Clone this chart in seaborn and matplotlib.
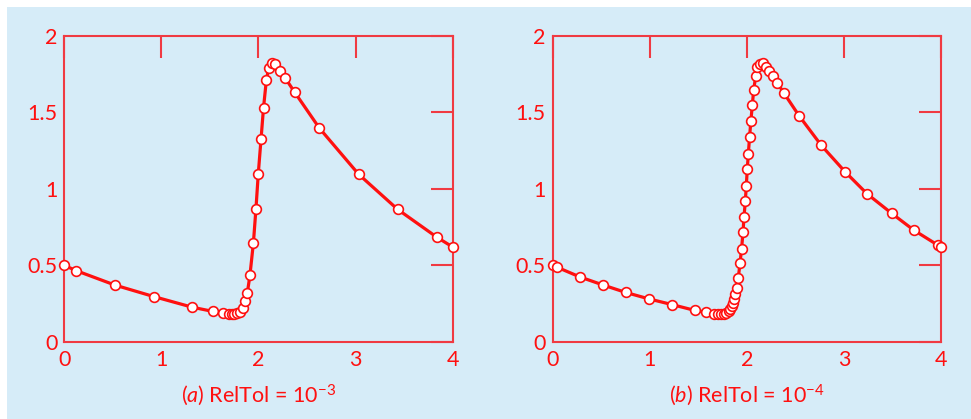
import numpy as np
import matplotlib
matplotlib.use("Agg")
import matplotlib.pyplot as plt
import seaborn as sns
import pandas as pd

# (a) RelTol = 1e-3
t_a = [0.0, 0.124, 0.522, 0.927, 1.320, 1.530, 1.635, 1.692, 1.726, 1.753, 1.782, 1.811,
       1.838, 1.864, 1.885, 1.912, 1.948, 1.974, 1.998, 2.026, 2.052, 2.081, 2.105, 2.137,
       2.175, 2.225, 2.278, 2.371, 2.627, 3.032, 3.433, 3.839, 4.0]
y_a = [0.499, 0.464, 0.370, 0.294, 0.225, 0.198, 0.187, 0.183, 0.183, 0.183, 0.185, 0.197,
       0.221, 0.265, 0.318, 0.434, 0.648, 0.869, 1.098, 1.322, 1.530, 1.709, 1.788, 1.824,
       1.814, 1.772, 1.721, 1.632, 1.396, 1.094, 0.865, 0.682, 0.619]

# (b) RelTol = 1e-4
t_b = [0.0, 0.048, 0.281, 0.521, 0.751, 0.995, 1.232, 1.460, 1.583, 1.660, 1.705, 1.736,
       1.763, 1.787, 1.811, 1.828, 1.842, 1.852, 1.866, 1.880, 1.894, 1.910, 1.928, 1.944,
       1.959, 1.969, 1.983, 1.993, 2.003, 2.014, 2.027, 2.040, 2.055, 2.069, 2.090, 2.108,
       2.129, 2.161, 2.199, 2.229, 2.268, 2.310, 2.377, 2.538, 2.765, 3.009, 3.235, 3.489,
       3.715, 3.962, 4.0]
y_b = [0.499, 0.486, 0.423, 0.370, 0.322, 0.279, 0.242, 0.205, 0.192, 0.183, 0.183, 0.183,
       0.184, 0.186, 0.199, 0.214, 0.231, 0.250, 0.276, 0.312, 0.353, 0.414, 0.512, 0.606,
       0.715, 0.815, 0.919, 1.020, 1.129, 1.230, 1.341, 1.444, 1.547, 1.647, 1.736, 1.796,
       1.814, 1.819, 1.794, 1.770, 1.735, 1.694, 1.628, 1.475, 1.283, 1.111, 0.967, 0.839,
       0.730, 0.632, 0.619]

titles = ["($\\it{a}$) RelTol = $10^{-3}$", "($\\it{b}$) RelTol = $10^{-4}$"]

bg = "#d6ecf8"
red = "#ff1010"
frame_red = "#f03a42"

sns.set_theme(style="white")
plt.rcParams["font.family"] = ["Lato", "DejaVu Sans"]
plt.rcParams["mathtext.fontset"] = "custom"
plt.rcParams["mathtext.rm"] = "Lato"
plt.rcParams["mathtext.it"] = "Lato:italic"

fig = plt.figure(figsize=(9.71, 4.19), dpi=100, facecolor="white")
fig.patches.append(plt.Rectangle((7 / 971, 0), 1, 412 / 419, transform=fig.transFigure,
                                 facecolor=bg, edgecolor="none", zorder=-10))

positions = [[0.0662, 0.1845, 0.4, 0.7303], [0.5692, 0.1845, 0.4002, 0.7303]]
datasets = [(t_a, y_a), (t_b, y_b)]

for pos, (t, y), title in zip(positions, datasets, titles):
    ax = fig.add_axes(pos)
    ax.set_facecolor(bg)
    df = pd.DataFrame({"t": t, "y": y})
    sns.lineplot(data=df, x="t", y="y", ax=ax, color=red, linewidth=2.3,
                 marker="o", markersize=7, markerfacecolor="white",
                 markeredgecolor=red, markeredgewidth=1.2, clip_on=False, zorder=5)
    ax.set_xlim(0, 4)
    ax.set_ylim(0, 2)
    ax.set_xticks([0, 1, 2, 3, 4])
    ax.set_xticklabels(["0", "1", "2", "3", "4"])
    ax.set_yticks([0, 0.5, 1, 1.5, 2])
    ax.set_yticklabels(["0", "0.5", "1", "1.5", "2"])
    for s in ax.spines.values():
        s.set_visible(True)
        s.set_color(frame_red)
        s.set_linewidth(1.5)
    ax.tick_params(axis="both", direction="in", length=16, width=1.5, color=frame_red,
                   labelcolor=red, labelsize=15.5, top=True, right=True, pad=5)
    ax.tick_params(axis="x", pad=6)
    ax.set_ylabel("")
    ax.set_xlabel(title, color=red, fontsize=15.5, labelpad=9)

fig.savefig("out.png", dpi=100, facecolor=fig.get_facecolor())
